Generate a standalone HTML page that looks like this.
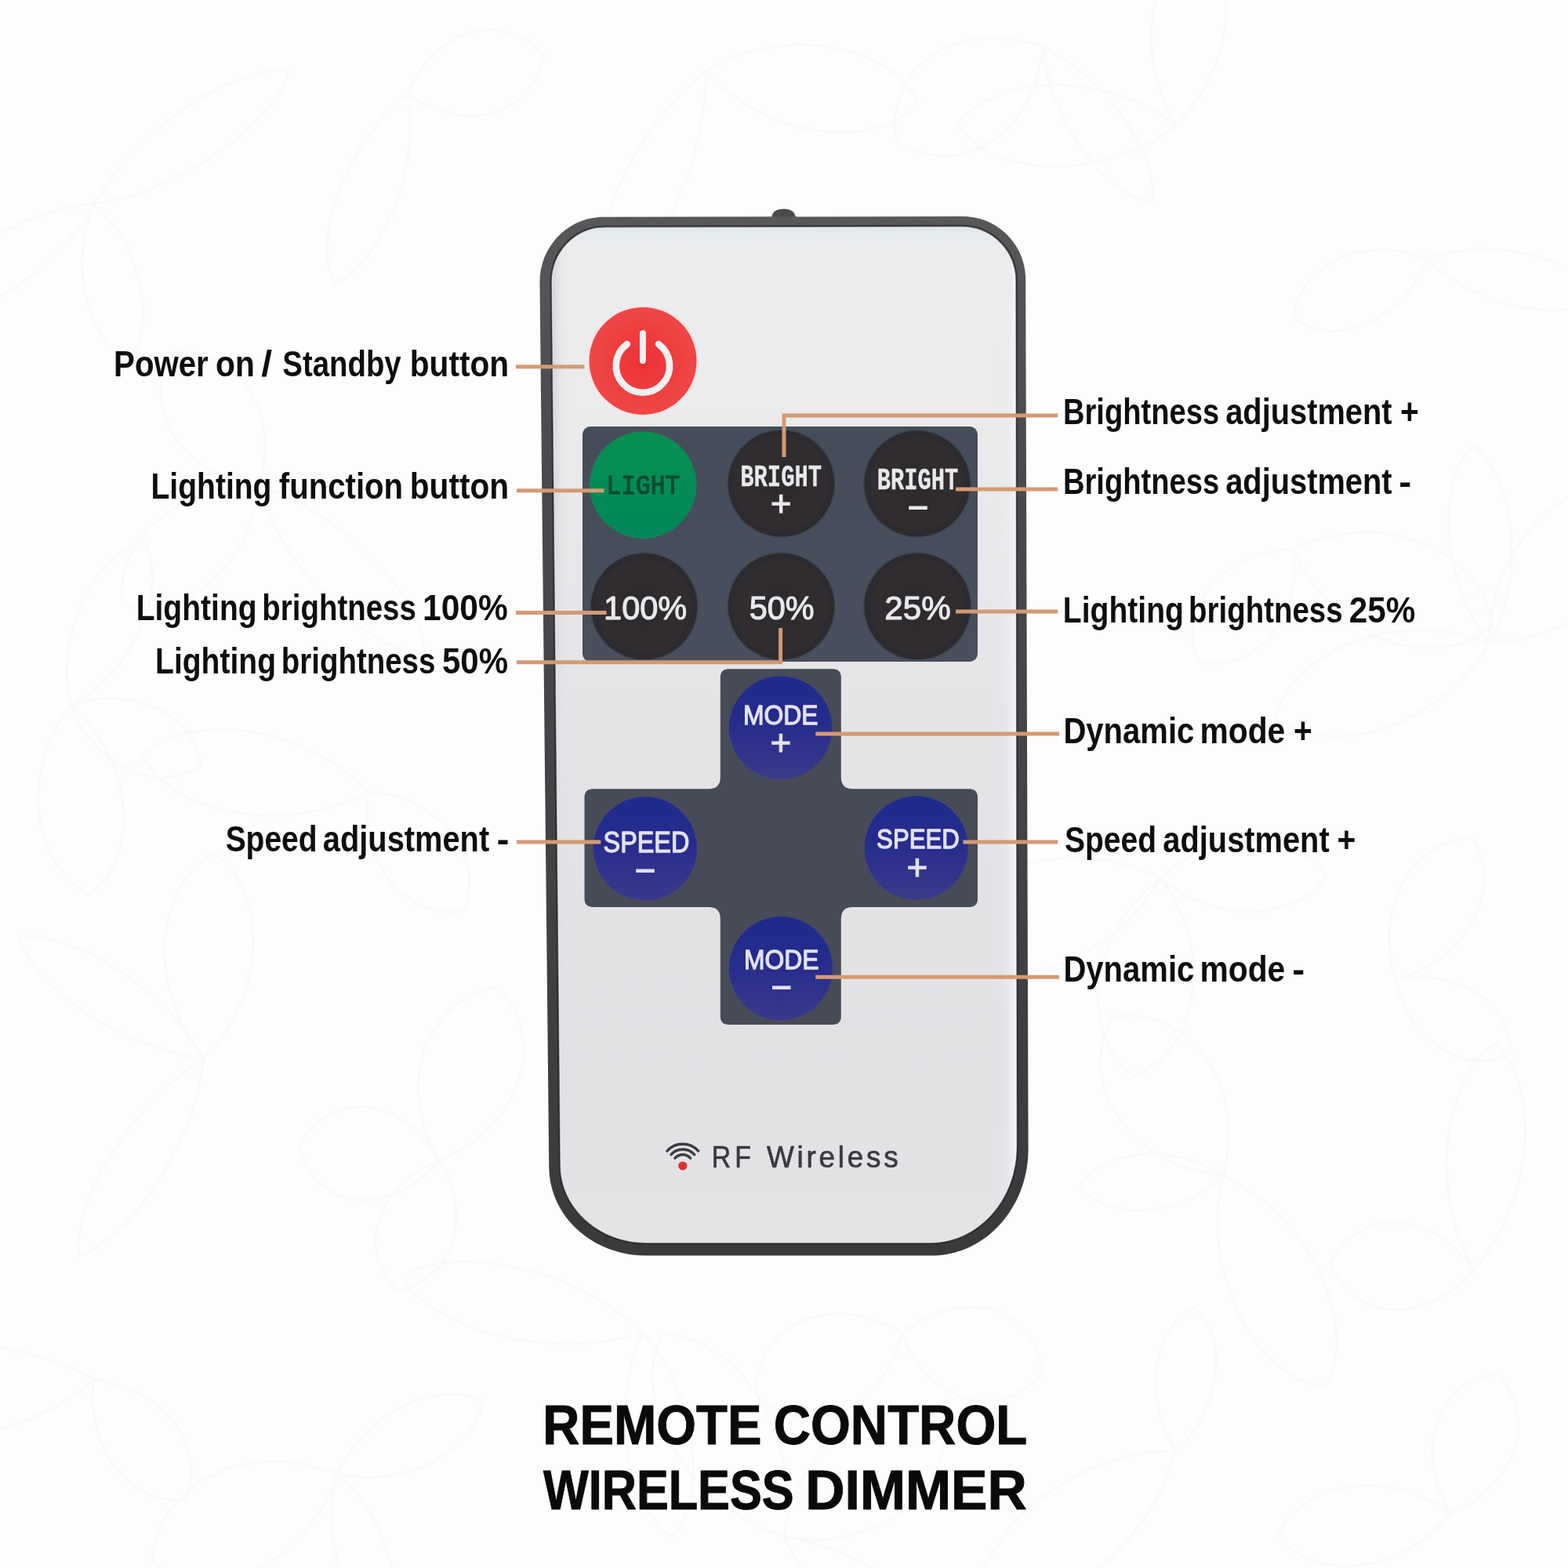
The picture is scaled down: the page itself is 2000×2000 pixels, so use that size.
<!DOCTYPE html>
<html lang="en">
<head>
<meta charset="utf-8">
<title>Remote Control Wireless Dimmer</title>
<style>
html,body{margin:0;padding:0;background:#fdfdfd;}
body{width:2000px;height:2000px;overflow:hidden;font-family:"Liberation Sans",Arial,sans-serif;}
svg{display:block;}
text{white-space:pre;}
</style>
</head>
<body>
<svg width="2000" height="2000" viewBox="0 0 2000 2000" role="img" aria-label="Remote control wireless dimmer button guide">
<defs>
<linearGradient id="gBody" x1="0" y1="0" x2="0" y2="1">
 <stop offset="0" stop-color="#e2e7eb"/><stop offset="0.008" stop-color="#e6eaed"/><stop offset="0.022" stop-color="#ededee"/><stop offset="0.18" stop-color="#ebebec"/><stop offset="0.5" stop-color="#e4e4e6"/><stop offset="0.85" stop-color="#e1e1e4"/><stop offset="1" stop-color="#e4e4e7"/>
</linearGradient>
<linearGradient id="gBodyX" x1="0" y1="0" x2="1" y2="0">
 <stop offset="0" stop-color="#cdd1d5" stop-opacity="0.95"/><stop offset="0.008" stop-color="#d4d9de" stop-opacity="0.75"/><stop offset="0.022" stop-color="#dde1e6" stop-opacity="0.3"/><stop offset="0.05" stop-color="#e6e6e8" stop-opacity="0"/>
 <stop offset="0.94" stop-color="#e6e6e8" stop-opacity="0"/><stop offset="0.975" stop-color="#e6eaee" stop-opacity="0.4"/><stop offset="0.992" stop-color="#eef1f4" stop-opacity="0.8"/><stop offset="1" stop-color="#f3f5f7" stop-opacity="0.9"/>
</linearGradient>
<linearGradient id="gRim" x1="0" y1="0" x2="0" y2="1">
 <stop offset="0" stop-color="#58585a"/><stop offset="0.25" stop-color="#4a494b"/><stop offset="1" stop-color="#3b393b"/>
</linearGradient>
<radialGradient id="gRed" cx="0.5" cy="0.5" r="0.5">
 <stop offset="0" stop-color="#ec3036"/><stop offset="0.8" stop-color="#f04343"/><stop offset="1" stop-color="#ee4648"/>
</radialGradient>
<linearGradient id="gGreen" x1="0" y1="0" x2="0" y2="1">
 <stop offset="0" stop-color="#05904f"/><stop offset="1" stop-color="#02875a"/>
</linearGradient>
<radialGradient id="gBlk" cx="0.5" cy="0.5" r="0.5">
 <stop offset="0" stop-color="#2d2a2d"/><stop offset="0.85" stop-color="#312d30"/><stop offset="1" stop-color="#2a2a2e"/>
</radialGradient>
<linearGradient id="gBlue" x1="0" y1="0" x2="0" y2="1">
 <stop offset="0" stop-color="#1f2a8c"/><stop offset="0.45" stop-color="#262c8c"/><stop offset="1" stop-color="#393a8a"/>
</linearGradient>
<linearGradient id="gPanel" x1="0" y1="0" x2="0" y2="1">
 <stop offset="0" stop-color="#444d59"/><stop offset="1" stop-color="#4a4f5e"/>
</linearGradient>
</defs>
<rect width="2000" height="2000" fill="#fdfdfd"/>
<g id="bgpattern" fill="none" stroke="#f8f8f8" stroke-width="3" stroke-linejoin="round" opacity="0.9">
<path d="M120 260C175 162 302 82 369 90C353 155 231 244 120 260Z M120 260C183 316 200 417 164 460C113 436 86 337 120 260Z M120 260C74 347 -36 414 -96 401C-84 342 22 267 120 260Z M520 120C557 32 646 14 693 70C683 143 598 175 520 120Z M520 120C537 219 485 338 426 361C398 304 440 182 520 120Z M330 620C439 653 541 764 541 834C471 832 362 729 330 620Z M330 620C320 725 228 795 157 770C143 696 225 615 330 620Z M330 620C227 606 178 517 220 450C298 439 360 520 330 620Z M90 900C69 807 121 706 184 692C215 748 174 854 90 900Z M90 900C171 871 251 915 256 977C206 1013 120 980 90 900Z M90 900C173 972 178 1094 115 1141C43 1107 23 988 90 900Z M470 1010C565 1017 620 1097 591 1162C522 1175 456 1104 470 1010Z M470 1010C362 1068 219 1037 181 964C240 907 385 922 470 1010Z M260 1350C248 1460 164 1583 101 1601C91 1536 166 1408 260 1350Z M260 1350C155 1339 40 1257 25 1195C88 1185 208 1258 260 1350Z M260 1350C185 1259 199 1128 272 1088C341 1135 343 1266 260 1350Z M560 1480C607 1556 573 1637 506 1645C456 1598 477 1514 560 1480Z M560 1480C493 1558 404 1541 381 1464C418 1392 508 1391 560 1480Z M560 1480C501 1378 547 1271 635 1260C698 1322 669 1435 560 1480Z M120 1760C212 1770 265 1850 237 1912C171 1923 107 1851 120 1760Z M120 1760C18 1848 -146 1854 -207 1787C-158 1712 5 1690 120 1760Z M430 1880C467 1799 562 1758 616 1788C607 1849 517 1900 430 1880Z M430 1880C494 1934 521 2037 492 2083C443 2061 407 1961 430 1880Z M430 1880C391 2001 269 2048 194 1991C198 1897 312 1833 430 1880Z M1500 160C1407 233 1268 226 1221 160C1268 95 1407 87 1500 160Z M1500 160C1445 70 1467 -51 1530 -85C1583 -37 1575 86 1500 160Z M1820 330C1903 300 2012 329 2039 379C1993 413 1883 393 1820 330Z M1820 330C1789 413 1701 445 1650 405C1655 340 1738 297 1820 330Z M1650 700C1768 646 1891 703 1903 798C1831 859 1701 819 1650 700Z M1650 700C1662 793 1596 860 1528 844C1501 780 1556 703 1650 700Z M1900 820C1836 929 1696 969 1626 916C1648 830 1782 775 1900 820Z M1900 820C1837 741 1832 615 1878 568C1931 606 1948 731 1900 820Z M1900 820C1900 690 2005 596 2096 619C2122 710 2030 816 1900 820Z M1480 1120C1549 1055 1655 1060 1692 1116C1657 1174 1552 1182 1480 1120Z M1480 1120C1552 1215 1527 1341 1446 1373C1377 1321 1386 1193 1480 1120Z M1480 1120C1412 1239 1266 1274 1193 1208C1216 1112 1357 1059 1480 1120Z M1780 1250C1750 1156 1806 1068 1878 1069C1918 1129 1875 1223 1780 1250Z M1780 1250C1861 1232 1931 1284 1927 1344C1874 1373 1797 1331 1780 1250Z M1560 1500C1676 1555 1734 1693 1690 1770C1602 1757 1530 1625 1560 1500Z M1560 1500C1503 1555 1412 1557 1378 1514C1405 1467 1495 1455 1560 1500Z M1560 1500C1436 1486 1373 1379 1419 1297C1513 1282 1591 1379 1560 1500Z M1880 1620C1815 1695 1724 1682 1697 1611C1731 1542 1823 1539 1880 1620Z M1880 1620C1821 1517 1841 1374 1908 1331C1965 1385 1958 1530 1880 1620Z M1500 1850C1465 1980 1334 2072 1247 2048C1244 1957 1366 1852 1500 1850Z M1500 1850C1455 1783 1472 1692 1523 1668C1567 1704 1560 1796 1500 1850Z M900 90C1002 29 1137 58 1172 132C1116 192 979 179 900 90Z M900 90C903 209 830 352 764 380C744 311 807 164 900 90Z M1150 1700C1232 1637 1320 1670 1330 1750C1280 1813 1188 1796 1150 1700Z M1150 1700C1122 1808 1026 1838 964 1778C965 1691 1054 1644 1150 1700Z M820 1700C890 1779 903 1910 858 1961C800 1925 775 1795 820 1700Z M820 1700C703 1737 551 1696 513 1629C577 1586 732 1615 820 1700Z M1000 1960C872 1919 802 1785 845 1701C939 1703 1024 1828 1000 1960Z M1000 1960C1016 1839 1123 1772 1203 1812C1216 1901 1120 1982 1000 1960Z M1000 1960C1110 1976 1225 2068 1236 2135C1169 2144 1047 2061 1000 1960Z M1850 1930C1786 2010 1675 2018 1630 1959C1658 1891 1767 1870 1850 1930Z M1850 1930C1800 1848 1836 1761 1909 1752C1961 1803 1939 1894 1850 1930Z M1330 60C1414 100 1480 202 1469 259C1411 249 1338 153 1330 60Z M1330 60C1318 179 1219 230 1143 179C1129 88 1217 21 1330 60Z"/>
</g>
<g id="remote">
<path d="M984 280 C984 270 990 266.5 999.5 266.5 C1009 266.5 1015 270 1015 280 Z" fill="#4b4a4c"/>
<path d="M769.6 276.7 L1228.0 276.1 C1272.2 276.0 1308.1 311.8 1308.2 356.0 L1311.6 1465.5 C1311.8 1540.6 1256.5 1601.5 1188.0 1601.5 L823.5 1601.5 C756.1 1601.5 701.0 1551.4 700.3 1489.5 L688.5 360.8 C688.0 314.4 724.3 276.8 769.6 276.7 Z" fill="url(#gRim)"/>
<path d="M771.5 290.4 L1227.0 289.6 C1264.6 289.6 1295.0 319.9 1295.1 357.5 L1296.4 1463.0 C1296.4 1530.4 1247.3 1585.0 1186.5 1585.0 L824.0 1585.0 C764.4 1585.0 715.6 1541.1 715.1 1487.0 L704.2 360.5 C703.8 321.8 733.9 290.4 771.5 290.4 Z" fill="none" stroke="#2a292c" stroke-opacity="0.75" stroke-width="5.5"/>
<path d="M771.5 290.4 L1227.0 289.6 C1264.6 289.6 1295.0 319.9 1295.1 357.5 L1296.4 1463.0 C1296.4 1530.4 1247.3 1585.0 1186.5 1585.0 L824.0 1585.0 C764.4 1585.0 715.6 1541.1 715.1 1487.0 L704.2 360.5 C703.8 321.8 733.9 290.4 771.5 290.4 Z" fill="url(#gBody)"/>
<path d="M771.5 290.4 L1227.0 289.6 C1264.6 289.6 1295.0 319.9 1295.1 357.5 L1296.4 1463.0 C1296.4 1530.4 1247.3 1585.0 1186.5 1585.0 L824.0 1585.0 C764.4 1585.0 715.6 1541.1 715.1 1487.0 L704.2 360.5 C703.8 321.8 733.9 290.4 771.5 290.4 Z" fill="url(#gBodyX)"/>
<path d="M771.5 290.4 L1227.0 289.6 C1264.6 289.6 1295.0 319.9 1295.1 357.5 L1296.4 1463.0 C1296.4 1530.4 1247.3 1585.0 1186.5 1585.0 L824.0 1585.0 C764.4 1585.0 715.6 1541.1 715.1 1487.0 L704.2 360.5 C703.8 321.8 733.9 290.4 771.5 290.4 Z" fill="none" stroke="#ffffff" stroke-opacity="0.45" stroke-width="1.6"/>
<rect x="743" y="544" width="504" height="300" rx="10" ry="10" fill="url(#gPanel)"/>
<path d="M929.8 853.3 H1061.8 Q1072.8 853.3 1072.8 864.3 V991.3 Q1072.8 1006.3 1087.8 1006.3 H1236 Q1247 1006.3 1247 1017.3 V1146 Q1247 1157 1236 1157 H1087.8 Q1072.8 1157 1072.8 1172 V1296 Q1072.8 1307 1061.8 1307 H929.8 Q918.8 1307 918.8 1296 V1172 Q918.8 1157 903.8 1157 H756.5 Q745.5 1157 745.5 1146 V1017.3 Q745.5 1006.3 756.5 1006.3 H903.8 Q918.8 1006.3 918.8 991.3 V864.3 Q918.8 853.3 929.8 853.3 Z" fill="#474b57"/>
<circle cx="820.0" cy="460.4" r="70.7" fill="#fbe3e1"/>
<circle cx="820.0" cy="460.4" r="68.5" fill="url(#gRed)"/>
<circle cx="820.2" cy="618.6" r="68.6" fill="#2f6e5c"/>
<circle cx="820.2" cy="618.6" r="67.6" fill="url(#gGreen)"/>
<circle cx="996.5" cy="616.7" r="69.0" fill="#3a424d"/>
<circle cx="996.5" cy="616.7" r="67.5" fill="url(#gBlk)"/>
<circle cx="1169.8" cy="617.0" r="68.7" fill="#3a424d"/>
<circle cx="1169.8" cy="617.0" r="67.2" fill="url(#gBlk)"/>
<circle cx="821.7" cy="773.4" r="69.0" fill="#3a424d"/>
<circle cx="821.7" cy="773.4" r="67.5" fill="url(#gBlk)"/>
<circle cx="996.5" cy="773.4" r="69.0" fill="#3a424d"/>
<circle cx="996.5" cy="773.4" r="67.5" fill="url(#gBlk)"/>
<circle cx="1170.2" cy="773.4" r="69.0" fill="#3a424d"/>
<circle cx="1170.2" cy="773.4" r="67.5" fill="url(#gBlk)"/>
<circle cx="995.6" cy="928.2" r="67.1" fill="#454a62"/>
<circle cx="995.6" cy="928.2" r="65.6" fill="url(#gBlue)"/>
<circle cx="822.9" cy="1082.3" r="67.5" fill="#454a62"/>
<circle cx="822.9" cy="1082.3" r="66.0" fill="url(#gBlue)"/>
<circle cx="1168.7" cy="1081.5" r="67.5" fill="#454a62"/>
<circle cx="1168.7" cy="1081.5" r="66.0" fill="url(#gBlue)"/>
<circle cx="996.0" cy="1235.2" r="67.5" fill="#454a62"/>
<circle cx="996.0" cy="1235.2" r="66.0" fill="url(#gBlue)"/>
<path d="M799.80 438.93 A34.2 34.2 0 1 0 840.00 438.93" fill="none" stroke="#f3efef" stroke-width="8.6" stroke-linecap="round"/>
<path d="M819.9 425.2 V460" fill="none" stroke="#f3efef" stroke-width="7.9" stroke-linecap="round"/>
<circle cx="870.8" cy="1487.0" r="5.6" fill="#e0322d"/>
<path d="M860.99 1477.17 A13.2 13.2 0 0 1 880.61 1477.17" fill="none" stroke="#3d3c41" stroke-width="3.4" stroke-linecap="round"/>
<path d="M855.94 1472.62 A20.0 20.0 0 0 1 885.66 1472.62" fill="none" stroke="#3d3c41" stroke-width="3.4" stroke-linecap="round"/>
<path d="M850.88 1468.07 A26.8 26.8 0 0 1 890.72 1468.07" fill="none" stroke="#3d3c41" stroke-width="3.4" stroke-linecap="round"/>
</g>
<g id="captions" opacity="0.999">
<text x="982.76" y="658.41" font-family="'Liberation Sans', Arial, sans-serif" font-size="46.0" fill="#e9e9ec" stroke="#e9e9ec" stroke-width="1.1">+</text>
<text x="1157.73" y="662.71" font-family="'Liberation Sans', Arial, sans-serif" font-size="46.0" fill="#e9e9ec" stroke="#e9e9ec" stroke-width="1.1">−</text>
<text x="982.56" y="963.01" font-family="'Liberation Sans', Arial, sans-serif" font-size="46.0" fill="#e3e3f3" stroke="#e3e3f3" stroke-width="1.1">+</text>
<text x="809.63" y="1125.71" font-family="'Liberation Sans', Arial, sans-serif" font-size="46.0" fill="#e3e3f3" stroke="#e3e3f3" stroke-width="1.1">−</text>
<text x="1156.46" y="1121.71" font-family="'Liberation Sans', Arial, sans-serif" font-size="46.0" fill="#e3e3f3" stroke="#e3e3f3" stroke-width="1.1">+</text>
<text x="983.53" y="1274.61" font-family="'Liberation Sans', Arial, sans-serif" font-size="46.0" fill="#e3e3f3" stroke="#e3e3f3" stroke-width="1.1">−</text>
<text transform="translate(773.55 630.40) scale(0.9051 1)" font-family="'Liberation Mono', 'DejaVu Sans Mono', monospace" font-weight="400" font-size="34.55" fill="#0a4a32" stroke="#0a4a32" stroke-width="1.2" stroke-linejoin="round">LIGHT</text>
<text transform="translate(944.13 619.85) scale(0.7368 1)" font-family="'Liberation Mono', 'DejaVu Sans Mono', monospace" font-weight="700" font-size="39.24" fill="#e9e9ec" stroke="#e9e9ec" stroke-width="0.3" stroke-linejoin="round">BRIGHT</text>
<text transform="translate(1118.64 623.85) scale(0.7276 1)" font-family="'Liberation Mono', 'DejaVu Sans Mono', monospace" font-weight="700" font-size="39.55" fill="#e9e9ec" stroke="#e9e9ec" stroke-width="0.3" stroke-linejoin="round">BRIGHT</text>
<text transform="translate(770.03 790.45) scale(0.9729 1)" font-family="'Liberation Sans', Arial, sans-serif" font-weight="400" font-size="42.71" fill="#e9e9ec" stroke="#e9e9ec" stroke-width="1.1" stroke-linejoin="round">100%</text>
<text transform="translate(955.69 790.45) scale(0.9716 1)" font-family="'Liberation Sans', Arial, sans-serif" font-weight="400" font-size="42.71" fill="#e9e9ec" stroke="#e9e9ec" stroke-width="1.1" stroke-linejoin="round">50%</text>
<text transform="translate(1128.24 790.45) scale(0.9889 1)" font-family="'Liberation Sans', Arial, sans-serif" font-weight="400" font-size="42.71" fill="#e9e9ec" stroke="#e9e9ec" stroke-width="1.1" stroke-linejoin="round">25%</text>
<text transform="translate(947.90 923.75) scale(0.9051 1)" font-family="'Liberation Sans', Arial, sans-serif" font-weight="400" font-size="35.22" fill="#e3e3f3" stroke="#e3e3f3" stroke-width="1.3" stroke-linejoin="round">MODE</text>
<text transform="translate(769.53 1087.35) scale(0.8943 1)" font-family="'Liberation Sans', Arial, sans-serif" font-weight="400" font-size="36.23" fill="#e3e3f3" stroke="#e3e3f3" stroke-width="1.3" stroke-linejoin="round">SPEED</text>
<text transform="translate(1118.09 1082.05) scale(0.8827 1)" font-family="'Liberation Sans', Arial, sans-serif" font-weight="400" font-size="35.36" fill="#e3e3f3" stroke="#e3e3f3" stroke-width="1.3" stroke-linejoin="round">SPEED</text>
<text transform="translate(949.10 1235.75) scale(0.9004 1)" font-family="'Liberation Sans', Arial, sans-serif" font-weight="400" font-size="35.36" fill="#e3e3f3" stroke="#e3e3f3" stroke-width="1.3" stroke-linejoin="round">MODE</text>
<text transform="translate(907.64 1489.45) scale(0.8793 1)" font-family="'Liberation Sans', Arial, sans-serif" font-weight="400" font-size="38.55" letter-spacing="5.80" fill="#3b3a40" stroke="#3b3a40" stroke-width="0.7" stroke-linejoin="round">RF</text>
<text transform="translate(977.88 1489.45) scale(0.9592 1)" font-family="'Liberation Sans', Arial, sans-serif" font-weight="400" font-size="38.55" letter-spacing="3.90" fill="#3b3a40" stroke="#3b3a40" stroke-width="0.7" stroke-linejoin="round">Wireless</text>
</g>
<g id="callouts" fill="none" stroke="#d39a74" stroke-width="5.0" stroke-linejoin="miter">
<path d="M658 467.8 H745.5"/>
<path d="M659 625.8 H770.5"/>
<path d="M658 781.5 H773.6"/>
<path d="M659 844.8 H995.6 V801"/>
<path d="M659 1074 H766.3"/>
<path d="M1349.2 530 H1000 V583"/>
<path d="M1219 624 H1349.2"/>
<path d="M1219 780 H1349.2"/>
<path d="M1040.2 936 H1351"/>
<path d="M1228.4 1074 H1349.2"/>
<path d="M1040.2 1246.2 H1351"/>
</g>
<g id="labels" opacity="0.999">
<text y="479.70" font-family="'Liberation Sans', Arial, sans-serif" font-weight="700" font-size="45.36" fill="#0e0e0e"><tspan x="145.09" textLength="120.66" lengthAdjust="spacingAndGlyphs">Power</tspan> <tspan x="275.07" textLength="49.85" lengthAdjust="spacingAndGlyphs">on</tspan> <tspan x="333.30" textLength="13.90" lengthAdjust="spacingAndGlyphs">/</tspan> <tspan x="360.35" textLength="151.34" lengthAdjust="spacingAndGlyphs">Standby</tspan> <tspan x="522.75" textLength="126.46" lengthAdjust="spacingAndGlyphs">button</tspan></text>
<text y="636.00" font-family="'Liberation Sans', Arial, sans-serif" font-weight="700" font-size="45.36" fill="#0e0e0e"><tspan x="192.47" textLength="153.99" lengthAdjust="spacingAndGlyphs">Lighting</tspan> <tspan x="355.80" textLength="158.35" lengthAdjust="spacingAndGlyphs">function</tspan> <tspan x="522.75" textLength="126.46" lengthAdjust="spacingAndGlyphs">button</tspan></text>
<text y="791.30" font-family="'Liberation Sans', Arial, sans-serif" font-weight="700" font-size="45.36" fill="#0e0e0e"><tspan x="173.67" textLength="153.99" lengthAdjust="spacingAndGlyphs">Lighting</tspan> <tspan x="334.31" textLength="196.50" lengthAdjust="spacingAndGlyphs">brightness</tspan> <tspan x="539.05" textLength="108.73" lengthAdjust="spacingAndGlyphs">100%</tspan></text>
<text y="858.80" font-family="'Liberation Sans', Arial, sans-serif" font-weight="700" font-size="45.36" fill="#0e0e0e"><tspan x="198.07" textLength="153.99" lengthAdjust="spacingAndGlyphs">Lighting</tspan> <tspan x="358.81" textLength="196.50" lengthAdjust="spacingAndGlyphs">brightness</tspan> <tspan x="563.94" textLength="84.09" lengthAdjust="spacingAndGlyphs">50%</tspan></text>
<text y="1085.90" font-family="'Liberation Sans', Arial, sans-serif" font-weight="700" font-size="45.36" fill="#0e0e0e"><tspan x="287.63" textLength="116.94" lengthAdjust="spacingAndGlyphs">Speed</tspan> <tspan x="411.81" textLength="212.35" lengthAdjust="spacingAndGlyphs">adjustment</tspan> <tspan x="633.48" textLength="15.99" lengthAdjust="spacingAndGlyphs">-</tspan></text>
<text y="541.20" font-family="'Liberation Sans', Arial, sans-serif" font-weight="700" font-size="45.36" fill="#0e0e0e"><tspan x="1355.93" textLength="199.32" lengthAdjust="spacingAndGlyphs">Brightness</tspan> <tspan x="1563.21" textLength="212.35" lengthAdjust="spacingAndGlyphs">adjustment</tspan> <tspan x="1785.97" textLength="23.83" lengthAdjust="spacingAndGlyphs">+</tspan></text>
<text y="630.20" font-family="'Liberation Sans', Arial, sans-serif" font-weight="700" font-size="45.36" fill="#0e0e0e"><tspan x="1355.93" textLength="199.32" lengthAdjust="spacingAndGlyphs">Brightness</tspan> <tspan x="1563.21" textLength="212.35" lengthAdjust="spacingAndGlyphs">adjustment</tspan> <tspan x="1784.28" textLength="15.99" lengthAdjust="spacingAndGlyphs">-</tspan></text>
<text y="793.80" font-family="'Liberation Sans', Arial, sans-serif" font-weight="700" font-size="45.36" fill="#0e0e0e"><tspan x="1355.87" textLength="153.99" lengthAdjust="spacingAndGlyphs">Lighting</tspan> <tspan x="1516.11" textLength="196.50" lengthAdjust="spacingAndGlyphs">brightness</tspan> <tspan x="1720.73" textLength="84.60" lengthAdjust="spacingAndGlyphs">25%</tspan></text>
<text y="947.70" font-family="'Liberation Sans', Arial, sans-serif" font-weight="700" font-size="45.36" fill="#0e0e0e"><tspan x="1356.40" textLength="166.95" lengthAdjust="spacingAndGlyphs">Dynamic</tspan> <tspan x="1530.55" textLength="108.76" lengthAdjust="spacingAndGlyphs">mode</tspan> <tspan x="1649.97" textLength="23.83" lengthAdjust="spacingAndGlyphs">+</tspan></text>
<text y="1087.00" font-family="'Liberation Sans', Arial, sans-serif" font-weight="700" font-size="45.36" fill="#0e0e0e"><tspan x="1358.03" textLength="116.94" lengthAdjust="spacingAndGlyphs">Speed</tspan> <tspan x="1483.31" textLength="212.35" lengthAdjust="spacingAndGlyphs">adjustment</tspan> <tspan x="1705.47" textLength="23.83" lengthAdjust="spacingAndGlyphs">+</tspan></text>
<text y="1252.40" font-family="'Liberation Sans', Arial, sans-serif" font-weight="700" font-size="45.36" fill="#0e0e0e"><tspan x="1356.40" textLength="166.95" lengthAdjust="spacingAndGlyphs">Dynamic</tspan> <tspan x="1530.55" textLength="108.76" lengthAdjust="spacingAndGlyphs">mode</tspan> <tspan x="1648.28" textLength="15.99" lengthAdjust="spacingAndGlyphs">-</tspan></text>
<text y="1842.40" font-family="'Liberation Sans', Arial, sans-serif" font-weight="700" font-size="70.87" fill="#0a0a0a" stroke="#0a0a0a" stroke-width="1.0" stroke-linejoin="round"><tspan x="692.33" textLength="279.15" lengthAdjust="spacingAndGlyphs">REMOTE</tspan> <tspan x="986.68" textLength="323.64" lengthAdjust="spacingAndGlyphs">CONTROL</tspan></text>
<text y="1925.40" font-family="'Liberation Sans', Arial, sans-serif" font-weight="700" font-size="70.87" fill="#0a0a0a" stroke="#0a0a0a" stroke-width="1.0" stroke-linejoin="round"><tspan x="692.90" textLength="319.71" lengthAdjust="spacingAndGlyphs">WIRELESS</tspan> <tspan x="1027.22" textLength="282.64" lengthAdjust="spacingAndGlyphs">DIMMER</tspan></text>
</g>
</svg>
</body>
</html>
